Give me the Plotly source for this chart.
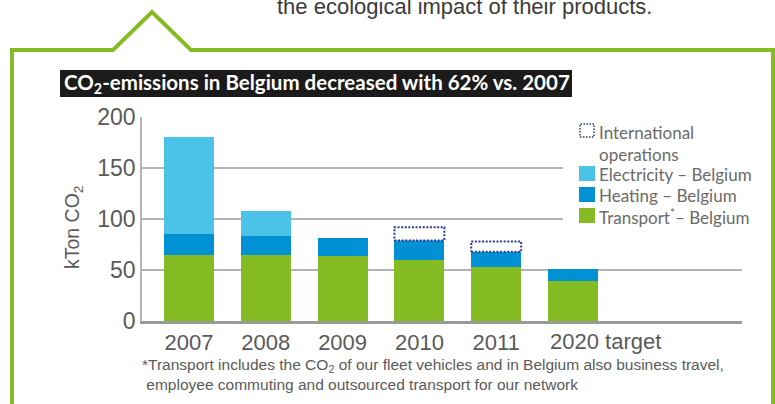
import plotly.graph_objects as go

# Emissions in kTon CO2 per year
categories = ["2007", "2008", "2009", "2010", "2011", "2020 target"]
transport = [65, 65, 64, 60, 53, 39]
heating = [20, 18, 17.5, 19, 15, 12]
electricity = [95, 25, 0, 0, 0, 0]
international = [0, 0, 0, 13, 10, 0]

y_ticks = [0, 50, 100, 150, 200]

GREEN = "#85BC24"
BLUE = "#0090D4"
LIGHT_BLUE = "#4BC2E8"
NAVY = "#2B3990"
GREY_TXT = "#5a5a5a"
GRID = "#b4b4b4"

W, H = 775, 404
L, R, T, B = 142, 742, 117, 321
BAR_W = 0.65

def px(x):
    return (x - L) / (R - L)

def py(y):
    return (B - y) / (B - T)

xs = list(range(len(categories)))

fig = go.Figure()
fig.add_trace(go.Bar(x=xs, y=transport, marker=dict(color=GREEN, line=dict(width=0)),
                     width=BAR_W, name="Transport", showlegend=False))
fig.add_trace(go.Bar(x=xs, y=heating, marker=dict(color=BLUE, line=dict(width=0)),
                     width=BAR_W, name="Heating", showlegend=False))
fig.add_trace(go.Bar(x=xs, y=electricity, marker=dict(color=LIGHT_BLUE, line=dict(width=0)),
                     width=BAR_W, name="Electricity", showlegend=False))

# International operations: dotted outline stacked on top of the Belgian totals
ox, oy = [], []
for i, v in enumerate(international):
    if v <= 0:
        continue
    base = transport[i] + heating[i] + electricity[i]
    x0, x1 = i - BAR_W / 2, i + BAR_W / 2
    ox += [x0, x1, x1, x0, x0, None]
    oy += [base, base, base + v, base + v, base, None]
fig.add_trace(go.Scatter(x=ox, y=oy, mode="lines", fill="toself", fillcolor="white",
                         line=dict(color=NAVY, width=2, dash="2px,1.6px"),
                         hoverinfo="skip", showlegend=False, name="International operations"))

shapes = []
annotations = []

# Green frame with the speech-bubble notch
frame_pts = [(12, 420), (12, 50), (113, 50), (152, 12), (191, 50), (773, 50), (773, 420)]
path = "M " + " L ".join(f"{px(a)},{py(b)}" for a, b in frame_pts)
shapes.append(dict(type="path", xref="paper", yref="paper", path=path,
                   line=dict(color=GREEN, width=4), layer="above"))

# Title banner
shapes.append(dict(type="rect", xref="paper", yref="paper", x0=px(60), x1=px(572),
                   y0=py(97), y1=py(70), fillcolor="#1b1b1b", line=dict(width=0), layer="above"))
annotations.append(dict(xref="paper", yref="paper", x=px(62), y=py(83.5), xanchor="left",
                        yanchor="middle", showarrow=False,
                        text="<b>CO<sub>2</sub>-emissions in Belgium decreased with 62% vs. 2007</b>",
                        font=dict(family="Lato, Liberation Sans, sans-serif", size=20.5, color="white")))

# Running text above the frame
annotations.append(dict(xref="paper", yref="paper", x=px(275), y=py(7), xanchor="left",
                        yanchor="middle", showarrow=False,
                        text="the ecological impact of their products.",
                        font=dict(family="Liberation Sans, Arial, sans-serif", size=22, color="#3b3b3b")))

# Axis title
annotations.append(dict(xref="paper", yref="paper", x=px(73), y=py(228), textangle=-90,
                        xanchor="center", yanchor="middle", showarrow=False,
                        text="kTon CO<sub>2</sub>",
                        font=dict(family="Liberation Sans, Arial, sans-serif", size=19.5, color=GREY_TXT)))

# Last category label, left-aligned to its bar
annotations.append(dict(xref="x", yref="paper", x=xs[-1] - BAR_W / 2, y=py(341.5),
                        xanchor="left", yanchor="middle", showarrow=False,
                        text=categories[-1],
                        font=dict(family="Liberation Sans, Arial, sans-serif", size=22, color=GREY_TXT)))

# Footnote
annotations.append(dict(xref="paper", yref="paper", x=px(140), y=py(374), xanchor="left",
                        yanchor="middle", align="left", showarrow=False,
                        text="*Transport includes the CO<sub>2</sub> of our fleet vehicles and in Belgium also business travel,<br>"
                             " employee commuting and outsourced transport for our network",
                        font=dict(family="Liberation Sans, Arial, sans-serif", size=15.5, color=GREY_TXT)))

# Legend box
shapes.append(dict(type="rect", xref="paper", yref="paper", x0=px(563), x1=px(743),
                   y0=py(232), y1=py(120), fillcolor="white", line=dict(width=0), layer="above"))
LEG_FONT = dict(family="Lato, Liberation Sans, sans-serif", size=17, color="#6a6a6a")
legend_items = [
    ("International<br>operations", None, 124, 131),
    ("Electricity – Belgium", LIGHT_BLUE, 166, 174),
    ("Heating – Belgium", BLUE, 187, 195.5),
    ("Transport<sup>*</sup>– Belgium", GREEN, 208, 216.5),
]
for label, color, top, ty in legend_items:
    if color is None:
        shapes.append(dict(type="rect", xref="paper", yref="paper", x0=px(580), x1=px(594),
                           y0=py(top + 13), y1=py(top), fillcolor="white",
                           line=dict(color=NAVY, width=1.5, dash="1.5px,1.5px"), layer="above"))
        annotations.append(dict(xref="paper", yref="paper", x=px(597), y=py(ty), xanchor="left",
                                yanchor="top", align="left", showarrow=False, text=label,
                                yshift=11, font=LEG_FONT))
    else:
        shapes.append(dict(type="rect", xref="paper", yref="paper", x0=px(579), x1=px(595),
                           y0=py(top + 15), y1=py(top), fillcolor=color,
                           line=dict(width=0), layer="above"))
        annotations.append(dict(xref="paper", yref="paper", x=px(597), y=py(ty), xanchor="left",
                                yanchor="middle", showarrow=False, text=label, font=LEG_FONT))

fig.update_layout(
    width=W, height=H,
    margin=dict(l=L, r=W - R, t=T, b=H - B),
    paper_bgcolor="white", plot_bgcolor="white",
    barmode="stack", bargap=0,
    shapes=shapes, annotations=annotations,
    showlegend=False,
    xaxis=dict(range=[(L - 189) / 76.8, (R - 189) / 76.8], tickvals=xs[:-1],
               ticktext=categories[:-1], showgrid=False, zeroline=False,
               showline=True, linecolor="#9a9a9a", linewidth=3, ticks="",
               tickfont=dict(family="Liberation Sans, Arial, sans-serif", size=22, color=GREY_TXT)),
    yaxis=dict(range=[0, 200], tickvals=y_ticks, showgrid=True, gridcolor=GRID, gridwidth=1.5,
               zeroline=False, showline=True, linecolor=GRID, linewidth=1.5, ticks="",
               tickfont=dict(family="Liberation Sans, Arial, sans-serif", size=23, color=GREY_TXT)),
)

fig.write_html("out.html")
